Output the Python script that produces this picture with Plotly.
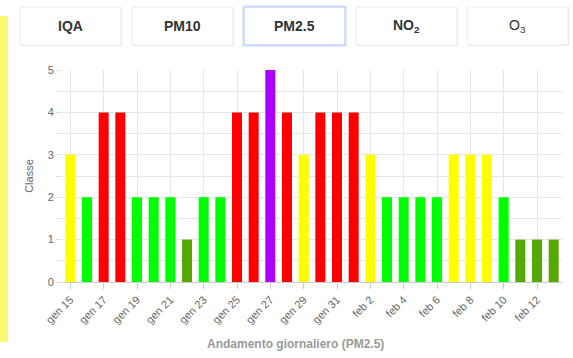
import plotly.graph_objects as go

# ---------------------------------------------------------------------------
# Data: daily PM2.5 class (gen 15 -> feb 13)
# ---------------------------------------------------------------------------
days = [
    "gen 15", "gen 16", "gen 17", "gen 18", "gen 19", "gen 20", "gen 21",
    "gen 22", "gen 23", "gen 24", "gen 25", "gen 26", "gen 27", "gen 28",
    "gen 29", "gen 30", "gen 31", "feb 1", "feb 2", "feb 3", "feb 4",
    "feb 5", "feb 6", "feb 7", "feb 8", "feb 9", "feb 10", "feb 11",
    "feb 12", "feb 13",
]
classe = [3, 2, 4, 4, 2, 2, 2, 1, 2, 2, 4, 4, 5, 4, 3,
          4, 4, 4, 3, 2, 2, 2, 2, 3, 3, 3, 2, 1, 1, 1]
tick_days = days[::2]
buttons = ["IQA", "PM10", "PM2.5", "NO<sub>2</sub>", "O<sub>3</sub>"]

CLASS_COLORS = {
    1: "#55a800",
    2: "#00ff00",
    3: "#ffff00",
    4: "#ff0000",
    5: "#aa00ff",
}

W, H = 573, 358
L, R, T, B = 62, 11, 70, 76
PW, PH = W - L - R, H - T - B


def px(x):
    return (x - L) / PW


def py(y):
    return (H - B - y) / PH


fig = go.Figure(go.Bar(
    x=days,
    y=classe,
    marker_color=[CLASS_COLORS[c] for c in classe],
    marker_line_width=0,
    width=0.6,
    hovertemplate="%{x}: %{y}<extra></extra>",
))

shapes = []
annotations = []

# yellow map strip on the left
shapes.append(dict(type="rect", xref="paper", yref="paper",
                   x0=px(0), x1=px(8), y0=py(342), y1=py(16),
                   fillcolor="#f9f972", line_width=0, layer="below"))

# selector buttons
btn_x = [20, 132, 244, 356, 467]
btn_w = 101
for i, (bx, label) in enumerate(zip(btn_x, buttons)):
    if label == "PM2.5":
        shapes.append(dict(type="rect", xref="paper", yref="paper",
                           x0=px(bx - 2), x1=px(bx + btn_w + 2),
                           y0=py(47), y1=py(5),
                           fillcolor="rgba(120,160,255,0.18)", line_width=0))
        line = dict(color="#a9c4f7", width=1)
    else:
        shapes.append(dict(type="rect", xref="paper", yref="paper",
                           x0=px(bx), x1=px(bx + btn_w + 1),
                           y0=py(46), y1=py(7),
                           fillcolor="#e4e4e4", line_width=0))
        line = dict(color="#ececec", width=1)
    shapes.append(dict(type="rect", xref="paper", yref="paper",
                       x0=px(bx), x1=px(bx + btn_w),
                       y0=py(45), y1=py(7),
                       fillcolor="white", line=line))
    annotations.append(dict(
        xref="paper", yref="paper",
        x=px(bx + btn_w / 2), y=py(26),
        text=f"<b>{label}</b>" if i < 4 else label,
        showarrow=False,
        font=dict(size=14, color="#333333"),
        xanchor="center", yanchor="middle",
    ))

# x axis title
annotations.append(dict(
    xref="paper", yref="paper", x=px(295), y=py(344),
    text="<b>Andamento giornaliero (PM2.5)</b>", showarrow=False,
    font=dict(size=12, color="#9a9a9a"), xanchor="center", yanchor="middle",
))

fig.update_layout(
    width=W, height=H,
    margin=dict(l=L, r=R, t=T, b=B),
    paper_bgcolor="white",
    plot_bgcolor="white",
    font=dict(family="Liberation Sans, Arial, sans-serif", size=11, color="#666666"),
    showlegend=False,
    shapes=shapes,
    annotations=annotations,
    bargap=0.4,
    xaxis=dict(
        type="category",
        categoryorder="array",
        categoryarray=days,
        tickmode="array",
        tickvals=tick_days,
        ticktext=tick_days,
        tickangle=-45,
        range=[-0.5, len(days) - 0.5],
        showgrid=True,
        gridcolor="#e6e6e6",
        showline=True,
        linecolor="#cccccc",
        ticks="outside",
        ticklen=6,
        tickcolor="#cccccc",
        tickfont=dict(size=11, color="#666666"),
    ),
    yaxis=dict(
        range=[0, 5],
        tickvals=[0, 1, 2, 3, 4, 5],
        showgrid=True,
        gridcolor="#e6e6e6",
        zeroline=False,
        ticks="outside",
        ticklen=5,
        tickcolor="#dddddd",
        tickfont=dict(size=11, color="#666666"),
        title=dict(text="Classe", font=dict(size=11, color="#666666"), standoff=11),
        minor=dict(dtick=0.5, showgrid=True, gridcolor="#e6e6e6",
                   ticks="outside", ticklen=5, tickcolor="#dddddd"),
    ),
)

fig.write_html(
    "out.html",
    config={"displayModeBar": False},
    post_script="document.body.style.margin='0';",
)
